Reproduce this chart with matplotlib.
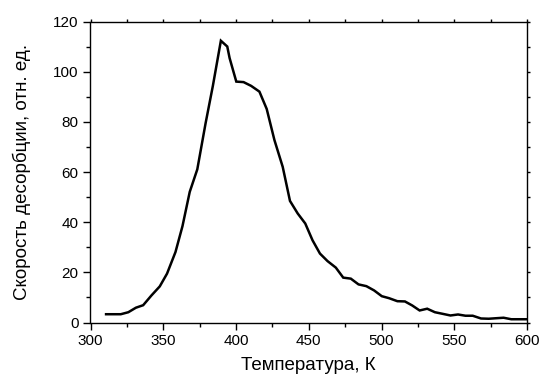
import matplotlib
matplotlib.use("Agg")
import matplotlib.pyplot as plt
from matplotlib.ticker import MultipleLocator

temperature = [310.7, 316.0, 320.8, 326.0, 331.2, 336.2, 341.9, 347.6, 352.6, 358.4,
               363.2, 368.2, 373.4, 379.1, 384.1, 389.6, 394.0, 395.6, 400.2, 405.2,
               410.4, 416.1, 421.1, 426.4, 432.1, 437.1, 442.4, 447.6, 452.6, 457.7,
               462.9, 468.6, 473.7, 478.9, 484.2, 489.6, 494.9, 500.2, 505.2, 510.9,
               516.1, 521.1, 526.2, 531.4, 536.7, 541.7, 547.4, 552.6, 557.7, 562.7,
               568.4, 573.7, 578.7, 583.9, 589.2, 594.5, 600.0]
rate = [3.3, 3.3, 3.3, 4.1, 5.9, 6.9, 10.8, 14.4, 19.5, 28.1,
        38.4, 52.1, 61.1, 79.5, 94.4, 112.4, 110.1, 105.5, 96.1, 95.9,
        94.4, 92.1, 85.2, 72.8, 62.1, 48.5, 43.5, 39.5, 32.8, 27.5,
        24.5, 21.9, 17.9, 17.5, 15.2, 14.5, 12.8, 10.5, 9.7, 8.5,
        8.4, 6.8, 4.8, 5.5, 4.1, 3.5, 2.8, 3.2, 2.7, 2.7,
        1.6, 1.5, 1.7, 1.9, 1.3, 1.3, 1.3]

plt.rcParams['font.family'] = ['Liberation Sans', 'DejaVu Sans']

fig = plt.figure(figsize=(5.42, 3.76), dpi=100)
ax = fig.add_axes([90.5/542, 53.5/376, (527-90.5)/542, (322.5-21.7)/376])
ax.plot(temperature, rate, color='black', lw=1.8, solid_joinstyle='miter')
ax.set_xlim(300, 600)
ax.set_ylim(0, 120)
ax.xaxis.set_major_locator(MultipleLocator(50))
ax.xaxis.set_minor_locator(MultipleLocator(25))
ax.yaxis.set_major_locator(MultipleLocator(20))
ax.yaxis.set_minor_locator(MultipleLocator(10))
ax.tick_params(which='major', direction='out', length=5, width=1, labelsize=11,
               colors='black', pad=3.5)
ax.tick_params(which='minor', direction='out', length=3, width=1)
ax.tick_params(which='both', top=True, right=True, labeltop=False, labelright=False)
# top/right ticks tiny
for t in ax.xaxis.get_major_ticks() + ax.xaxis.get_minor_ticks():
    t.tick2line.set_markersize(2)
for t in ax.yaxis.get_major_ticks() + ax.yaxis.get_minor_ticks():
    t.tick2line.set_markersize(2)
for s in ax.spines.values():
    s.set_linewidth(1.0)
ax.set_xlabel('Температура, К', fontsize=13.5, labelpad=6)
ax.set_ylabel('Скорость десорбции, отн. ед.', fontsize=13.5, labelpad=16)
fig.savefig('out.png', dpi=100)
